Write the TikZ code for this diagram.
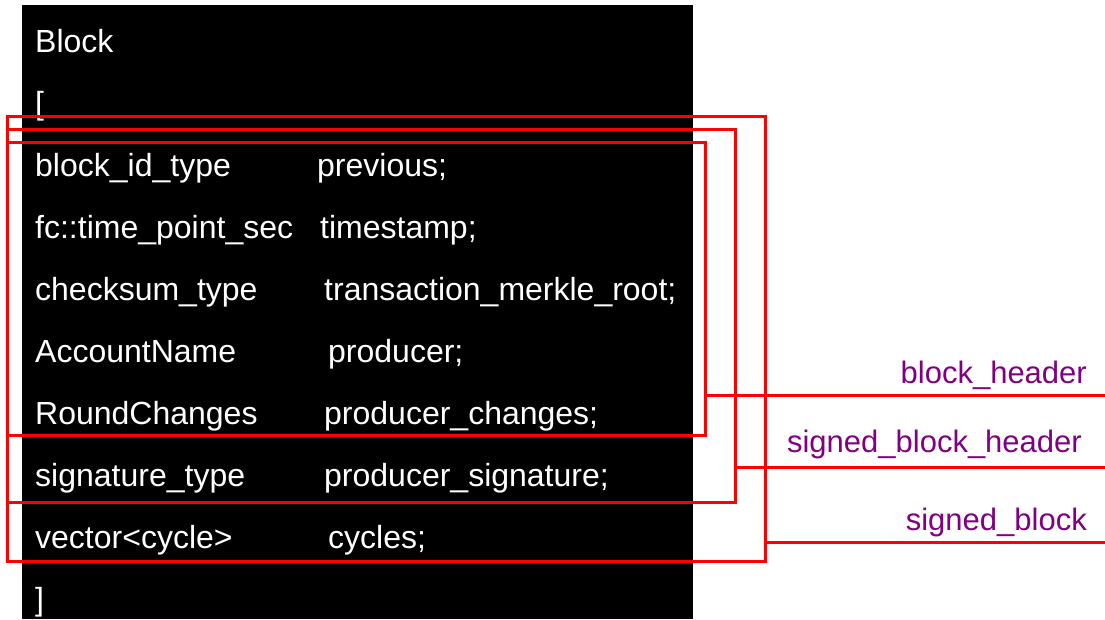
\documentclass[tikz,border=0pt]{standalone}
\usepackage{fontspec}
\setmainfont{Liberation Sans}
\definecolor{tagpurple}{RGB}{128,0,128}
\tikzset{
  field/.style={anchor=base west, inner sep=0pt, text=white, font=\fontsize{32}{38}\selectfont},
  tag/.style={anchor=base east, inner sep=0pt, text=tagpurple, font=\fontsize{31}{37}\selectfont},
  frame/.style={red, line width=3pt},
}

\begin{document}
\begin{tikzpicture}[x=1pt, y=-1pt]
        \useasboundingbox (0,0) rectangle (1105,619);
        % Draw the black code panel
        \fill[black] (22,5) rectangle (693,619);

        % Struct header and brackets
        \node[field] (blk) at (35,52) {Block};
        \node[field] (open) at (35,114) {[};
        \node[field] (close) at (35,610) {]};

        % Field types (left column)
        \node[field] (t1) at (35,176) {block\_id\_type};
        \node[field] (t2) at (35,238) {fc::time\_point\_sec};
        \node[field] (t3) at (35,300) {checksum\_type};
        \node[field] (t4) at (35,362) {AccountName};
        \node[field] (t5) at (35,424) {RoundChanges};
        \node[field] (t6) at (35,486) {signature\_type};
        \node[field] (t7) at (35,548) {vector<cycle>};

        % Field names (right column)
        \node[field] (n1) at (317,176) {previous;};
        \node[field] (n2) at (320,238) {timestamp;};
        \node[field] (n3) at (324,300) {transaction\_merkle\_root;};
        \node[field] (n4) at (328,362) {producer;};
        \node[field] (n5) at (324,424) {producer\_changes;};
        \node[field] (n6) at (324,486) {producer\_signature;};
        \node[field] (n7) at (328,548) {cycles;};

        % Nested red frames
        \draw[frame] (7,142) rectangle (705,435);
        \draw[frame] (7,129) rectangle (735,502);
        \draw[frame] (7,116) rectangle (765,561);

        % Leader lines to the right edge
        \coordinate (hdrR) at (705,395);
        \coordinate (hdrEnd) at (1105,395);
        \coordinate (shdrR) at (735,467);
        \coordinate (shdrEnd) at (1105,467);
        \coordinate (sblkR) at (765,542);
        \coordinate (sblkEnd) at (1105,542);
        \draw[frame] (hdrR) -- (hdrEnd);
        \draw[frame] (shdrR) -- (shdrEnd);
        \draw[frame] (sblkR) -- (sblkEnd);

        % Labels
        \node[tag] (hdr) at (1087,383) {block\_header};
        \node[tag] (shdr) at (1082,452) {signed\_block\_header};
        \node[tag] (sblk) at (1087,530) {signed\_block};
    \end{tikzpicture}
\end{document}
